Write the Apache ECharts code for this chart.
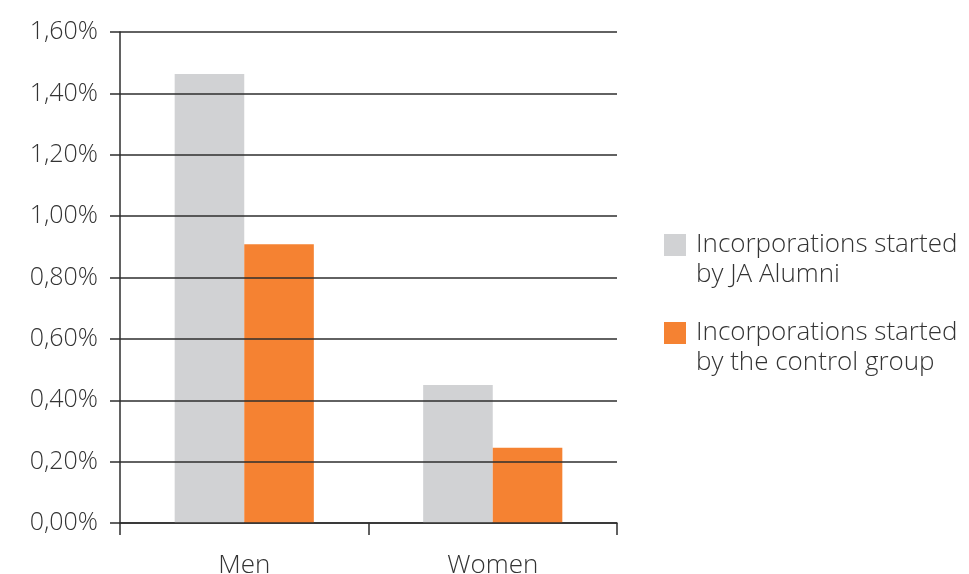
<!DOCTYPE html>
<html>
<head>
<meta charset="utf-8">
<script src="https://cdn.jsdelivr.net/npm/echarts@6/dist/echarts.min.js"></script>
<style>
  html, body { margin: 0; padding: 0; background: #fff; }
  #chart { width: 969px; height: 574px; }
</style>
</head>
<body>
<div id="chart"></div>
<script>
// data (percent)
var categories = ['Men', 'Women'];
var alumniValues = [1.463, 0.45];
var controlValues = [0.908, 0.245];
var seriesNames = [
  'Incorporations started\nby JA Alumni',
  'Incorporations started\nby the control group'
];

var myChart = echarts.init(document.getElementById('chart'));
var textColor = '#333333';
var lineColor = '#2e2e2e';
var font = '"Open Sans", Lato, sans-serif';

// square at the top of a taller box so it sits level with the first line of text
var legendIcon = 'path://M0,0h0.05v0.05h-0.05z M0,4h22v22h-22z M0,59.95h0.05v0.05h-0.05z';

var option = {
  animation: false,
  backgroundColor: '#fff',
  textStyle: { fontFamily: font },
  grid: {
    left: 120,
    right: 352,
    top: 32,
    bottom: 51,
    containLabel: false,
    outerBoundsMode: 'none'
  },
  legend: {
    orient: 'vertical',
    left: 659,
    top: 225,
    itemWidth: 22,
    itemHeight: 60,
    itemGap: 28,
    icon: legendIcon,
    selectedMode: false,
    textStyle: {
      color: textColor,
      fontSize: 26,
      fontWeight: 300,
      fontFamily: font,
      lineHeight: 30,
      padding: [0, 0, 0, 5]
    },
    data: seriesNames
  },
  xAxis: {
    type: 'category',
    data: categories,
    axisLine: { show: true, lineStyle: { color: lineColor, width: 1.5 } },
    axisTick: { show: true, length: 12, alignWithLabel: false, lineStyle: { color: lineColor, width: 1.5 } },
    axisLabel: { color: textColor, fontSize: 26, fontWeight: 300, margin: 30, fontFamily: font },
    splitLine: { show: false }
  },
  yAxis: {
    type: 'value',
    min: 0,
    max: 1.6,
    interval: 0.2,
    z: 3,
    axisLine: { show: true, lineStyle: { color: lineColor, width: 1.5 } },
    axisTick: { show: true, length: 10, lineStyle: { color: lineColor, width: 1.5 } },
    axisLabel: {
      color: textColor,
      fontSize: 25,
      fontWeight: 300,
      margin: 22,
      fontFamily: font,
      formatter: function (v) {
        return v.toFixed(2).replace('.', ',') + '%';
      }
    },
    splitLine: { show: true, lineStyle: { color: lineColor, width: 1.5 } }
  },
  series: [{
    name: seriesNames[0],
    type: 'bar',
    barWidth: '28%',
    barGap: '0%',
    itemStyle: { color: '#d1d2d4' },
    data: alumniValues
  }, {
    name: seriesNames[1],
    type: 'bar',
    barWidth: '28%',
    barGap: '0%',
    itemStyle: { color: '#f58232' },
    data: controlValues
  }]
};

myChart.setOption(option);
</script>
</body>
</html>
